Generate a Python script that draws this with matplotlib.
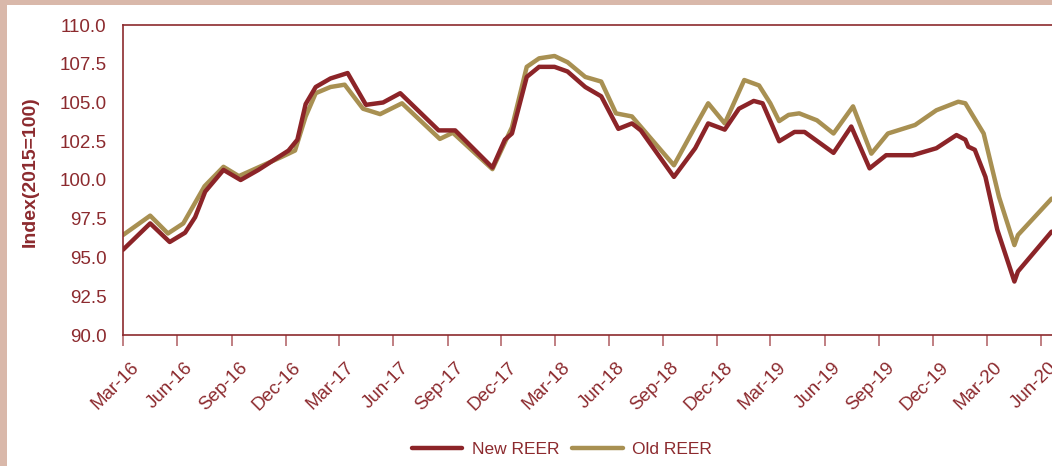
import matplotlib
matplotlib.use("Agg")
import matplotlib.pyplot as plt
import matplotlib.transforms as mtransforms
from matplotlib.patches import Rectangle
import pandas as pd

# ---------------- data ----------------
new_dates = ["2016-03-01", "2016-04-16", "2016-05-19", "2016-06-14", "2016-07-01",
             "2016-07-18", "2016-08-18", "2016-09-16", "2016-10-16", "2016-12-06",
             "2016-12-21", "2017-01-04", "2017-01-21", "2017-02-15", "2017-03-16",
             "2017-04-16", "2017-05-15", "2017-06-13", "2017-08-17", "2017-09-14",
             "2017-11-16", "2017-12-07", "2017-12-19", "2018-01-13", "2018-02-03",
             "2018-03-01", "2018-03-23", "2018-04-22", "2018-05-19", "2018-06-17",
             "2018-07-10", "2018-07-25", "2018-09-19", "2018-10-25", "2018-11-16",
             "2018-12-14", "2019-01-07", "2019-02-01", "2019-02-16", "2019-03-16",
             "2019-04-11", "2019-04-28", "2019-06-16", "2019-07-16", "2019-08-16",
             "2019-09-13", "2019-10-28", "2019-12-07", "2020-01-10", "2020-01-25",
             "2020-01-30", "2020-02-10", "2020-02-28", "2020-03-19", "2020-04-17",
             "2020-04-23", "2020-06-19"]
new_reer = [95.5, 97.2, 96.0, 96.6, 97.6,
            99.25, 100.65, 100.0, 100.65, 101.9,
            102.6, 104.9, 106.0, 106.55, 106.9,
            104.85, 105.0, 105.6, 103.2, 103.2,
            100.8, 102.6, 103.0, 106.65, 107.3,
            107.3, 107.0, 106.0, 105.4, 103.3,
            103.65, 103.2, 100.2, 102.05, 103.65,
            103.25, 104.6, 105.1, 104.95, 102.5,
            103.1, 103.1, 101.75, 103.45, 100.75,
            101.6, 101.6, 102.05, 102.9, 102.6,
            102.15, 101.95, 100.2, 96.8, 93.45,
            94.1, 96.67]

old_dates = ["2016-03-01", "2016-04-16", "2016-05-16", "2016-06-11", "2016-07-17",
             "2016-08-18", "2016-09-13", "2016-11-25", "2016-12-17", "2017-01-04",
             "2017-01-21", "2017-02-15", "2017-03-11", "2017-04-11", "2017-05-10",
             "2017-06-16", "2017-08-19", "2017-09-10", "2017-11-16", "2017-12-19",
             "2018-01-13", "2018-02-03", "2018-03-01", "2018-03-23", "2018-04-22",
             "2018-05-19", "2018-06-13", "2018-07-10", "2018-09-19", "2018-10-25",
             "2018-11-16", "2018-12-14", "2019-01-16", "2019-02-10", "2019-03-01",
             "2019-03-16", "2019-04-01", "2019-04-19", "2019-05-19", "2019-06-16",
             "2019-07-19", "2019-08-19", "2019-09-16", "2019-11-01", "2019-12-07",
             "2020-01-13", "2020-01-25", "2020-02-25", "2020-03-22", "2020-04-17",
             "2020-04-23", "2020-06-19"]
old_reer = [96.45, 97.7, 96.55, 97.2, 99.6,
            100.85, 100.25, 101.5, 101.9, 104.1,
            105.6, 106.0, 106.15, 104.6, 104.25,
            104.95, 102.65, 103.05, 100.7, 103.4,
            107.3, 107.85, 108.0, 107.6, 106.65,
            106.35, 104.3, 104.1, 100.95, 103.45,
            104.95, 103.65, 106.45, 106.1, 104.95,
            103.8, 104.2, 104.3, 103.85, 103.0,
            104.75, 101.7, 103.0, 103.55, 104.5,
            105.05, 104.95, 103.0, 98.9, 95.8,
            96.45, 98.8]

tick_dates = ["2016-03-01", "2016-06-01", "2016-09-01", "2016-12-01", "2017-03-01",
              "2017-06-01", "2017-09-01", "2017-12-01", "2018-03-01", "2018-06-01",
              "2018-09-01", "2018-12-01", "2019-03-01", "2019-06-01", "2019-09-01",
              "2019-12-01", "2020-03-01", "2020-06-01"]
tick_labels = ["Mar-16", "Jun-16", "Sep-16", "Dec-16", "Mar-17", "Jun-17", "Sep-17",
               "Dec-17", "Mar-18", "Jun-18", "Sep-18", "Dec-18", "Mar-19", "Jun-19",
               "Sep-19", "Dec-19", "Mar-20", "Jun-20"]
y_ticks = [90.0, 92.5, 95.0, 97.5, 100.0, 102.5, 105.0, 107.5, 110.0]

# ---------------- style ----------------
RED = "#8C2428"
GOLD = "#A89052"
TXT = "#8C2A2E"
BORDER = "#D9B8AA"
plt.rcParams["font.family"] = ["Liberation Sans", "DejaVu Sans"]

W, H = 1052, 466
fig = plt.figure(figsize=(W / 100, H / 100), dpi=100)
fig.patch.set_facecolor("white")

# pink frame fragments on left and top
fig.patches.append(Rectangle((0, 0), 7 / W, 1, transform=fig.transFigure,
                             facecolor=BORDER, edgecolor="none", zorder=0))
fig.patches.append(Rectangle((0, 1 - 5 / H), 1, 5 / H, transform=fig.transFigure,
                             facecolor=BORDER, edgecolor="none", zorder=0))

x0_px, x_tick_last_px = 123, 1041
t0 = pd.Timestamp(tick_dates[0])
t_last = pd.Timestamp(tick_dates[-1])
px_per_day = (x_tick_last_px - x0_px) / (t_last - t0).days
t_right = pd.Timestamp("2020-08-01")
right_px = x0_px + (t_right - t0).days * px_per_day

left = x0_px / W
bottom = (H - 335) / H
top = (H - 25) / H
ax = fig.add_axes([left, bottom, (right_px - x0_px) / W, top - bottom])

ax.plot(pd.to_datetime(new_dates), new_reer, color=RED, lw=3.2,
        solid_joinstyle="round", solid_capstyle="round", label="New REER", zorder=3)
ax.plot(pd.to_datetime(old_dates), old_reer, color=GOLD, lw=3.2,
        solid_joinstyle="round", solid_capstyle="round", label="Old REER", zorder=2)

ax.set_xlim(t0, t_right)
ax.set_ylim(90, 110)
ax.set_yticks(y_ticks)
ax.set_yticklabels([f"{v:.1f}" for v in y_ticks])
ax.set_xticks(pd.to_datetime(tick_dates))
ax.set_xticklabels(tick_labels)

for s in ["left", "bottom", "top"]:
    ax.spines[s].set_color(TXT)
    ax.spines[s].set_linewidth(1.2)
ax.spines["right"].set_visible(False)

ax.tick_params(axis="y", length=0, pad=12, labelsize=13.5, labelcolor=TXT)
ax.tick_params(axis="x", length=8, width=1.2, color="#B56A6D", direction="out",
               labelsize=13.5, labelcolor=TXT, pad=0)

offset = mtransforms.ScaledTranslation(7 / 100, -13 / 100, fig.dpi_scale_trans)
for lab in ax.get_xticklabels():
    lab.set_rotation(45)
    lab.set_ha("right")
    lab.set_va("top")
    lab.set_rotation_mode("anchor")
    lab.set_transform(lab.get_transform() + offset)

ax.set_ylabel("Index(2015=100)", fontsize=14, fontweight="bold", color=TXT)
ax.yaxis.set_label_coords(
    39 / W, 0.526,
    transform=mtransforms.blended_transform_factory(fig.transFigure, ax.transAxes))

fig.legend(loc="center", bbox_to_anchor=(562 / W, 1 - 449 / H), ncol=2,
           frameon=False, fontsize=12.5, labelcolor=TXT, handlelength=2.9,
           handletextpad=0.55, columnspacing=0.75)

fig.savefig("out.png", dpi=100, facecolor="white")
